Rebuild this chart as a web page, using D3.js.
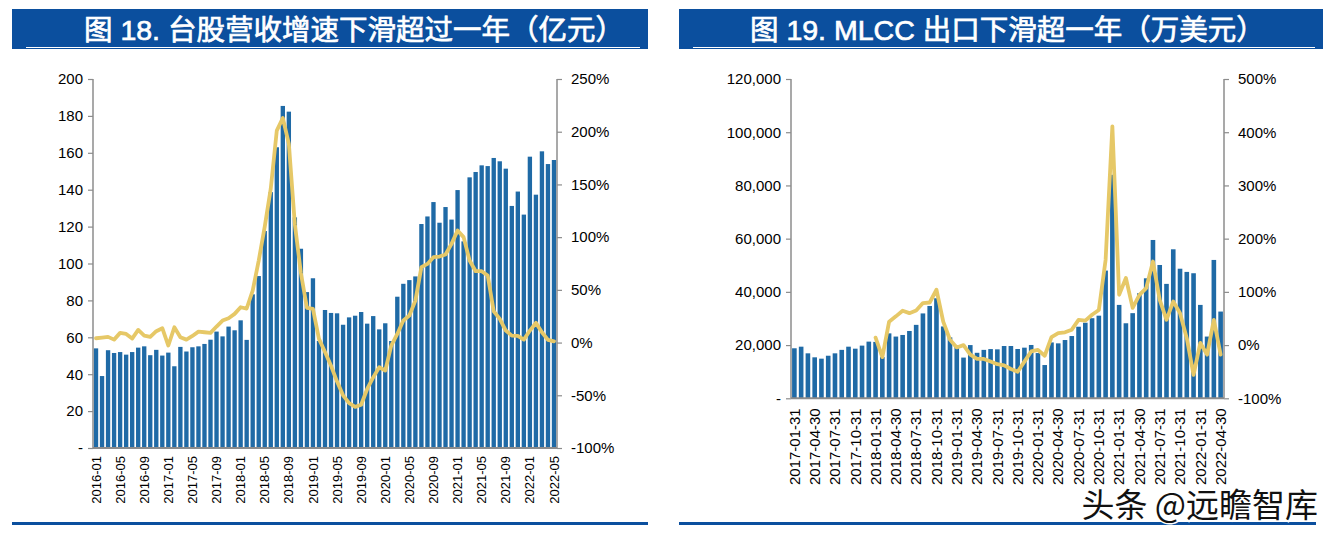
<!DOCTYPE html>
<html><head><meta charset="utf-8">
<script src="https://cdn.jsdelivr.net/npm/d3@7"></script>
<style>
html,body{margin:0;padding:0;background:#fff;}
svg{display:block;}
</style>
</head><body>
<svg id="c" width="1335" height="535"></svg>
<script>
// ---------- Chart 18 data ----------
const title1 = "图 18. 台股营收增速下滑超过一年（亿元）";
const months1 = ["2016-01","2016-02","2016-03","2016-04","2016-05","2016-06","2016-07","2016-08","2016-09","2016-10","2016-11","2016-12",
"2017-01","2017-02","2017-03","2017-04","2017-05","2017-06","2017-07","2017-08","2017-09","2017-10","2017-11","2017-12",
"2018-01","2018-02","2018-03","2018-04","2018-05","2018-06","2018-07","2018-08","2018-09","2018-10","2018-11","2018-12",
"2019-01","2019-02","2019-03","2019-04","2019-05","2019-06","2019-07","2019-08","2019-09","2019-10","2019-11","2019-12",
"2020-01","2020-02","2020-03","2020-04","2020-05","2020-06","2020-07","2020-08","2020-09","2020-10","2020-11","2020-12",
"2021-01","2021-02","2021-03","2021-04","2021-05","2021-06","2021-07","2021-08","2021-09","2021-10","2021-11","2021-12",
"2022-01","2022-02","2022-03","2022-04","2022-05"];
const revenue1 = [54,39,53,51.5,52,50.6,52,54.4,55.1,50.3,53.2,50.1,
51.7,44.3,54.8,52.3,54.6,55.1,56.4,58.7,63.1,60.5,65.8,63.8,
69.2,58.6,83.3,93.2,117.6,138.7,163,185.4,182.3,125,108,84.5,
92,58,74.8,73.2,73,66.8,70.8,71.7,73.7,67.4,71.5,64.3,
67.6,58,82,89,91,93,121.4,125.5,133.3,122.1,130.6,123.8,
139.8,112,146.7,149.6,153.2,152.8,157.2,155.4,151.4,131.2,139,126.5,
157.9,137.3,160.8,153.9,156.1];
const growth1 = [4.1,4.7,5.4,2.8,9.2,8.2,3.8,12,6.6,5.4,10.8,13.6,
-2.8,14.5,5,2.8,6.3,10.4,9.8,9.2,15.2,20.9,23.1,27.2,
33.5,32.3,49.3,77.8,110,146,201,213,188.5,112,66,33,
32,3.5,-9,-22,-37,-50,-57.5,-61,-59,-44,-33,-23.4,
-26.6,-2.8,8.2,20.9,25.6,39.8,71.5,74.6,81,81.6,83.5,93.6,
106.3,100,77.8,67.7,67.7,63.6,29.7,22.5,11.4,6.6,6.3,2.8,
11.4,18.7,9.8,2.6,1.2];
const xLabels1 = ["2016-01","2016-05","2016-09","2017-01","2017-05","2017-09","2018-01","2018-05","2018-09","2019-01","2019-05","2019-09","2020-01","2020-05","2020-09","2021-01","2021-05","2021-09","2022-01","2022-05"];
const yTicks1 = [0,20,40,60,80,100,120,140,160,180,200];
const pctTicks1 = [-100,-50,0,50,100,150,200,250];

// ---------- Chart 19 data ----------
const title2 = "图 19. MLCC 出口下滑超一年（万美元）";
const months2 = ["2017-01-31","2017-02-28","2017-03-31","2017-04-30","2017-05-31","2017-06-30","2017-07-31","2017-08-31","2017-09-30","2017-10-31","2017-11-30","2017-12-31",
"2018-01-31","2018-02-28","2018-03-31","2018-04-30","2018-05-31","2018-06-30","2018-07-31","2018-08-31","2018-09-30","2018-10-31","2018-11-30","2018-12-31",
"2019-01-31","2019-02-28","2019-03-31","2019-04-30","2019-05-31","2019-06-30","2019-07-31","2019-08-31","2019-09-30","2019-10-31","2019-11-30","2019-12-31",
"2020-01-31","2020-02-29","2020-03-31","2020-04-30","2020-05-31","2020-06-30","2020-07-31","2020-08-31","2020-09-30","2020-10-31","2020-11-30","2020-12-31",
"2021-01-31","2021-02-28","2021-03-31","2021-04-30","2021-05-31","2021-06-30","2021-07-31","2021-08-31","2021-09-30","2021-10-31","2021-11-30","2021-12-31",
"2022-01-31","2022-02-28","2022-03-31","2022-04-30"];
const exports2 = [18800,19400,16900,15400,14900,16000,16900,18200,19400,18650,19800,21300,
21200,15500,24400,23200,23800,25300,27600,31900,34700,37600,27000,22900,
19400,15300,20000,17100,18200,18500,18400,19650,19650,18530,19030,20040,
17000,12500,21000,20650,21900,23400,26900,28400,30100,31050,48000,84000,
35100,28200,32000,39500,45100,59500,50100,43000,56000,48700,47500,47000,
35100,23200,52000,32600];
const growth2 = [null,null,null,null,null,null,null,null,null,null,null,null,
14,-22.6,44,54,64.5,60,65,79,80,104,44,10,
-4.4,0,-18,-26,-26,-31,-36,-38,-45,-50,-31,-12,
-9,-20,15,22.5,24,29,47.5,46,57,66,160,411,
94.6,126,70,94.5,107,157,85,47.5,82,60,13,-56,
4,-18,47.5,-18];
const xLabels2 = ["2017-01-31","2017-04-30","2017-07-31","2017-10-31","2018-01-31","2018-04-30","2018-07-31","2018-10-31","2019-01-31","2019-04-30","2019-07-31","2019-10-31","2020-01-31","2020-04-30","2020-07-31","2020-10-31","2021-01-31","2021-04-30","2021-07-31","2021-10-31","2022-01-31","2022-04-30"];
const yTicks2 = [0,20000,40000,60000,80000,100000,120000];
const pctTicks2 = [-100,0,100,200,300,400,500];

const watermark = "头条 @远瞻智库";

// ---------- styles ----------
const BLUE = "#0b4f9e";
const BAR = "#1f6aa6";
const LINE = "#e6c867";
const AXIS = "#8c8c8c";
const FONT = "'Liberation Sans', Arial, sans-serif";
const CJK = "'Noto Sans CJK SC', sans-serif";
const TITLEFONT = "'Liberation Sans', 'Noto Sans CJK SC', sans-serif";

const svg = d3.select("#c");
svg.append("rect").attr("width",1335).attr("height",535).attr("fill","#fff");

function panel(o){
  const g = svg.append("g");
  // title box
  g.append("rect").attr("x",o.boxX0).attr("y",9).attr("width",o.boxX1-o.boxX0).attr("height",40).attr("fill",BLUE);
  g.append("line").attr("x1",o.boxX0+14).attr("x2",o.boxX1-8).attr("y1",47.5).attr("y2",47.5).attr("stroke","#fff").attr("stroke-width",1);
  g.append("text").attr("x",o.titleX).attr("y",39.5).attr("text-anchor","start")
    .attr("fill","#fff").attr("stroke","#fff").attr("stroke-width",0.7)
    .attr("font-family",TITLEFONT).attr("font-weight","normal").attr("font-size",o.titleSize).text(o.title);
  // bottom rule
  g.append("rect").attr("x",o.boxX0).attr("y",522).attr("width",o.ruleX1-o.boxX0).attr("height",3).attr("fill",BLUE);

  const x = d3.scaleBand().domain(o.cats).range([o.x0,o.x1]).paddingInner(o.pad).paddingOuter(o.pad/2);
  const y = d3.scaleLinear().domain(o.yDom).range([o.yB,o.yT]);
  const y2 = d3.scaleLinear().domain(o.pDom).range([o.yB,o.yT]);

  // bars
  g.append("g").selectAll("rect").data(o.cats).join("rect")
    .attr("x",d=>x(d)).attr("width",x.bandwidth())
    .attr("y",(d,i)=>y(o.bars[i])).attr("height",(d,i)=>y(0)-y(o.bars[i]))
    .attr("fill",BAR);

  // axes
  const la = d3.axisLeft(y).tickValues(o.yTicks).tickSize(5).tickPadding(5)
    .tickFormat(v=> v===0 ? "-" : o.yFmt(v));
  const lg = g.append("g").attr("transform",`translate(${o.x0},0)`).call(la);
  const ra = d3.axisRight(y2).tickValues(o.pTicks).tickSize(5).tickPadding(9)
    .tickFormat(v=>v+"%");
  const rg = g.append("g").attr("transform",`translate(${o.x1},0)`).call(ra);
  [lg,rg].forEach(a=>{
    a.select(".domain").attr("stroke",AXIS).attr("stroke-width",1.5).attr("d",`M0,${o.yT}V${o.yB}`);
    a.selectAll(".tick line").attr("stroke",AXIS).attr("stroke-width",1.2);
    a.selectAll(".tick text").attr("font-family",FONT).attr("font-size",15).attr("fill","#000");
  });
  // bottom axis
  const ba = d3.axisBottom(x).tickValues(o.xLabels).tickSize(0).tickPadding(0);
  const bg = g.append("g").attr("transform",`translate(0,${o.yB})`).call(ba);
  bg.select(".domain").attr("stroke",AXIS).attr("stroke-width",2).attr("d",`M${o.x0},0H${o.x1}`);
  bg.selectAll(".tick text").attr("font-family",FONT).attr("font-size",o.xFont).attr("fill","#000")
    .attr("text-anchor","end").attr("transform",`translate(0,${o.xGap}) rotate(-90)`).attr("x",0).attr("y",0).attr("dy","0.35em");

  // line
  const pts = o.cats.map((c,i)=>({c, v:o.line[i]})).filter(d=>d.v!==null);
  g.append("path").datum(pts)
    .attr("d", d3.line().x(d=>x(d.c)+x.bandwidth()/2).y(d=>y2(d.v)))
    .attr("fill","none").attr("stroke",LINE).attr("stroke-width",3.8).attr("stroke-linejoin","round").attr("stroke-linecap","round");
}

panel({title:title1, titleX:84, titleSize:28.5, boxX0:12, boxX1:648, ruleX1:648, cats:months1, bars:revenue1, line:growth1,
  x0:93, x1:557, yT:79, yB:448, yDom:[0,200], pDom:[-100,250], yTicks:yTicks1, pTicks:pctTicks1,
  yFmt:d3.format("d"), pad:0.28, xLabels:xLabels1, xFont:13, xGap:8});

panel({title:title2, titleX:750, titleSize:28.5, boxX0:679, boxX1:1323, ruleX1:1316, cats:months2, bars:exports2, line:growth2,
  x0:791, x1:1224, yT:79, yB:398.3, yDom:[0,120000], pDom:[-100,500], yTicks:yTicks2, pTicks:pctTicks2,
  yFmt:d3.format(","), pad:0.32, xLabels:xLabels2, xFont:15, xGap:10});

// watermark
svg.append("text").attr("x",1318).attr("y",517).attr("text-anchor","end")
  .attr("font-family",CJK).attr("font-size",33).attr("fill","#111")
  .attr("stroke","#fff").attr("stroke-width",3).attr("paint-order","stroke")
  .text(watermark);
</script>
</body></html>
